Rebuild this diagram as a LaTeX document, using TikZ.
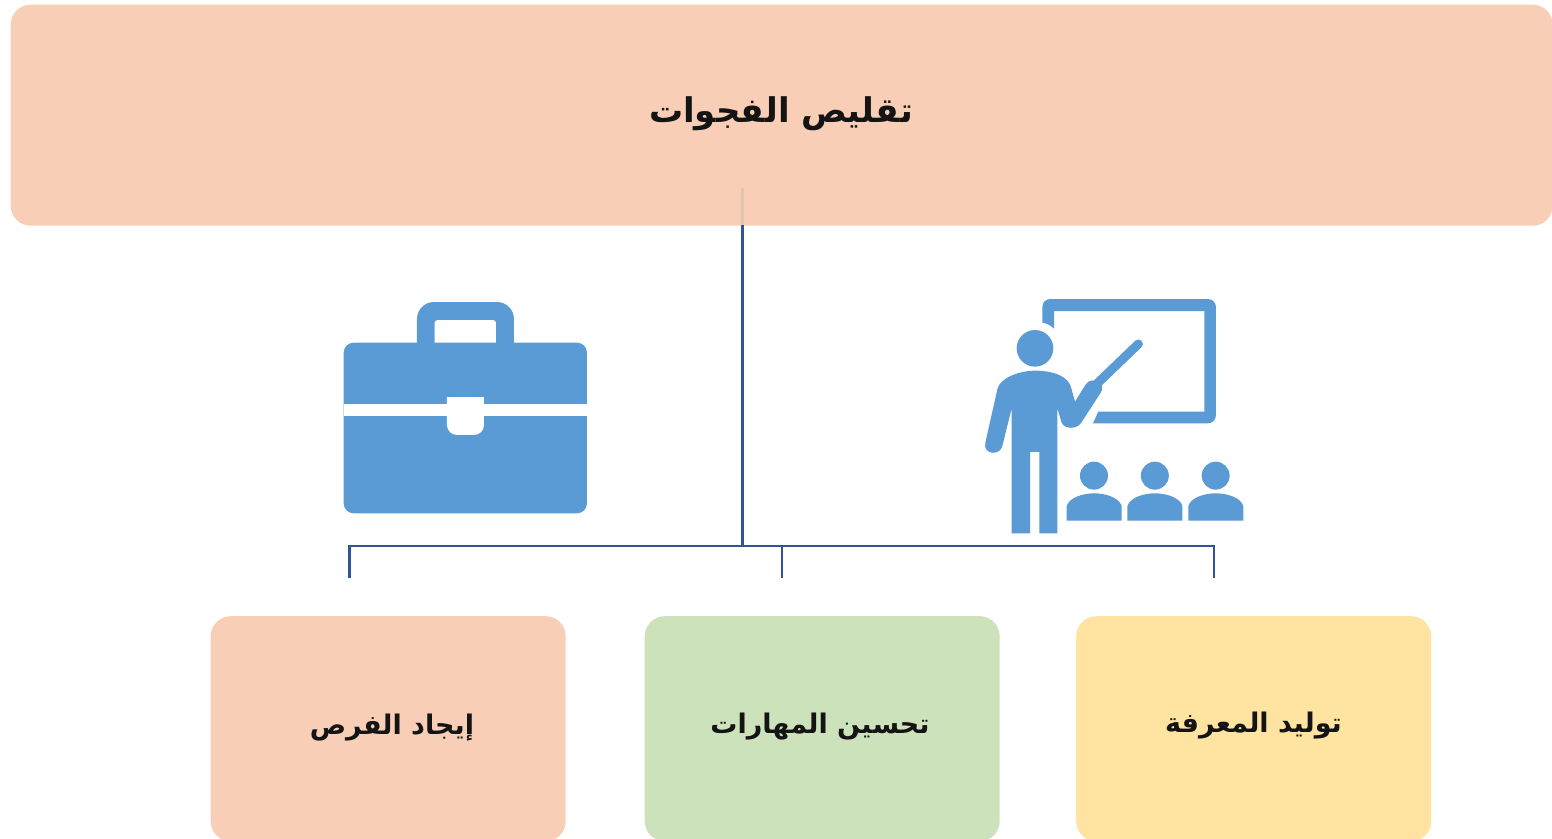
\documentclass[tikz,border=0pt]{standalone}
\usepackage{fontspec}
\TeXXeTstate=1
\newfontfamily\arabicfont[Script=Arabic]{DejaVu Sans}
\definecolor{peach}{HTML}{F8CFB6}
\definecolor{mint}{HTML}{CBE2BB}
\definecolor{butter}{HTML}{FEE4A0}
\definecolor{iconblue}{HTML}{5B9BD5}
\definecolor{linkblue}{HTML}{2F5597}
\definecolor{ghost}{HTML}{E6C5AF}
\tikzset{
  box/.style={rounded corners=20pt,inner sep=0pt,minimum width=355pt,minimum height=225pt,anchor=north west},
  label/.style={font=\arabicfont\bfseries\fontsize{27}{31}\selectfont,text=black!92,inner sep=0pt},
  link/.style={draw=linkblue,line width=2.4pt},
  icon/.style={fill=iconblue,draw=none},
}
\begin{document}
\begin{tikzpicture}[x=1pt,y=-1pt]
\useasboundingbox (0,0) rectangle (1552,838);
\fill[white] (0,0) rectangle (1552,838);
% boxes
\node[box,fill=peach,minimum width=1542pt,minimum height=221pt] (top) at (10.5,4.5) {};
\node[box,fill=peach] (b1) at (210.5,616) {};
\node[box,fill=mint] (b2) at (644.5,616) {};
\node[box,fill=butter] (b3) at (1076,616) {};
\node[label,font=\arabicfont\bfseries\fontsize{34}{38}\selectfont] (t0) at (781,114) {\beginR تقليص الفجوات\endR};
\node[label] (t1) at (392,728) {\beginR إيجاد الفرص\endR};
\node[label] (t2) at (820,727) {\beginR تحسين المهارات\endR};
\node[label] (t3) at (1253.5,726) {\beginR توليد المعرفة\endR};
% connectors
\coordinate (hub) at (742.4,545.8);
\coordinate (ghosttop) at (742.4,188);
\coordinate (topout) at (742.4,225);
\coordinate (dl) at (349.3,578);
\coordinate (dm) at (781.7,578);
\coordinate (dr) at (1214,578);
\draw[ghost,line width=3pt] (ghosttop) -- (topout);
\draw[link] (topout) -- (hub);
\draw[link] (dl) |- (hub) -| (dr);
\draw[link] (dm) -- (dm |- hub);
% briefcase
\begin{scope}[shift={(320,280)},x=0.3333pt,y=-0.3333pt]
  \fill[icon,rounded corners=17pt] (291,200) -- (291,66) -- (582,66) -- (582,200);
  \fill[white,rounded corners=3pt] (344,195) -- (344,120) -- (528,120) -- (528,195);
  \fill[icon,rounded corners=10pt] (71,188) rectangle (801,700);
  \fill[white] (71,371) rectangle (801,408);
  \fill[white,rounded corners=10pt] (381,340) -- (381,465) -- (492,465) -- (492,340);
  \fill[iconblue] (375,335) rectangle (498,352);
\end{scope}
% teacher
\begin{scope}[shift={(960,280)},x=0.3333pt,y=-0.3333pt]
  \fill[icon] (272,57) -- (742,57) .. controls (758,57) and (768,67) .. (768,83)
    -- (768,404) .. controls (768,420) and (758,430) .. (742,430)
    -- (399,430) -- (415,395) -- (733,395) -- (733,93) -- (282,93) -- (282,146)
    .. controls (272,136) and (260,130) .. (247,128) -- (247,83)
    .. controls (247,67) and (256,57) .. (272,57) -- cycle;
  \fill[icon] (225,205) circle[radius=55];
  \draw[iconblue,line width=9pt,line cap=round] (410,312) -- (535,192);
  \fill[icon] (155,760) -- (155,385) -- (127,498)
    .. controls (120,528) and (68,525) .. (76,488)
    -- (112,328) .. controls (118,296) and (175,272) .. (225,272)
    .. controls (285,272) and (328,292) .. (334,325)
    -- (345,365) -- (378,312)
    .. controls (395,288) and (438,308) .. (424,335)
    -- (364,428) .. controls (350,450) and (310,448) .. (304,425)
    -- (292,385) -- (292,760) -- (238,760) -- (238,516) -- (210,516) -- (210,760) -- cycle;
  \foreach \dx in {0,182.5,365}{
    \fill[icon] (402+\dx,587) circle[radius=42];
    \fill[icon] (320+\dx,722) -- (320+\dx,678)
      .. controls (328+\dx,652) and (370+\dx,640) .. (402+\dx,640)
      .. controls (435+\dx,640) and (477+\dx,652) .. (485+\dx,678)
      -- (485+\dx,722) -- cycle;
  }
\end{scope}
\end{tikzpicture}
\end{document}
